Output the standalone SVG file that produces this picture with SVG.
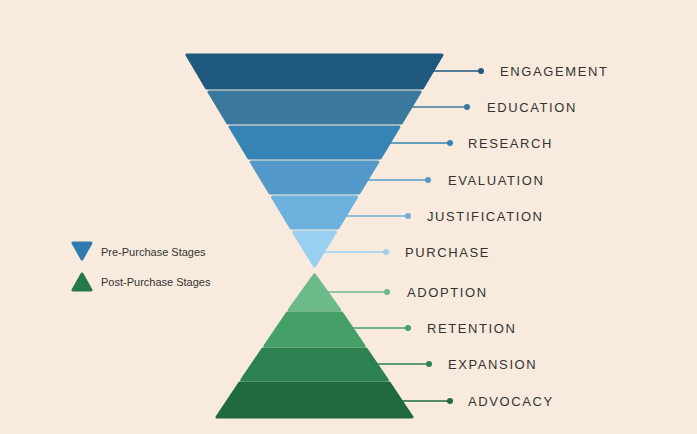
<svg xmlns="http://www.w3.org/2000/svg" width="697" height="434" viewBox="0 0 697 434">
<style>
.b{stroke-linejoin:round;stroke-width:3}
.t{font-family:"Liberation Sans",Arial,sans-serif;font-size:13px;letter-spacing:1.6px;fill:#333}
.l{font-family:"Liberation Sans",Arial,sans-serif;font-size:11px;fill:#333}
#connectors line{stroke-width:1.5}
</style>
<rect width="697" height="434" fill="#f8ebdd"/>
<g id="legend">
<polygon class="b" points="73,243 91,243 82,259" fill="#2f7bb0" stroke="#2f7bb0"/>
<text class="l" x="101" y="256">Pre-Purchase Stages</text>
<polygon class="b" points="82,274 91,290 73,290" fill="#23794a" stroke="#23794a"/>
<text class="l" x="101" y="286">Post-Purchase Stages</text>
</g>
<g id="engagement"><polygon class="b" points="187,55 442,55 422.5,88 206.5,88" fill="#1f5a7e" stroke="#1f5a7e"/><text class="t" x="500" y="76">ENGAGEMENT</text></g>
<g id="education"><polygon class="b" points="209,92 420,92 401.3,123 227.7,123" fill="#3a789d" stroke="#3a789d"/><text class="t" x="487" y="112">EDUCATION</text></g>
<g id="research"><polygon class="b" points="230.1,127 398.9,127 380.2,158 248.8,158" fill="#3683b6" stroke="#3683b6"/><text class="t" x="468" y="148">RESEARCH</text></g>
<g id="evaluation"><polygon class="b" points="251.2,162 377.8,162 359,193 270,193" fill="#5299c9" stroke="#5299c9"/><text class="t" x="448" y="185">EVALUATION</text></g>
<g id="justification"><polygon class="b" points="272.4,197 356.6,197 337.9,228 291.1,228" fill="#6db1de" stroke="#6db1de"/><text class="t" x="427" y="221">JUSTIFICATION</text></g>
<g id="purchase"><polygon class="b" points="293.5,232 335.5,232 314.5,266" fill="#99d0f2" stroke="#99d0f2"/><text class="t" x="405" y="257">PURCHASE</text></g>
<g id="adoption"><polygon class="b" points="314.5,275 339.7,310 289.3,310" fill="#6cb98a" stroke="#6cb98a"/><text class="t" x="407" y="297">ADOPTION</text></g>
<g id="retention"><polygon class="b" points="287.3,313 341.7,313 364.1,346 264.9,346" fill="#45a068" stroke="#45a068"/><text class="t" x="427" y="333">RETENTION</text></g>
<g id="expansion"><polygon class="b" points="262.8,349 366.2,349 387.3,380 241.7,380" fill="#2b8250" stroke="#2b8250"/><text class="t" x="448" y="369">EXPANSION</text></g>
<g id="advocacy"><polygon class="b" points="239.7,383 389.3,383 412,417 217,417" fill="#1f6a3e" stroke="#1f6a3e"/><text class="t" x="468" y="406">ADVOCACY</text></g>
<g id="connectors">
<line x1="432" y1="71" x2="481" y2="71" stroke="#1f5a7e"/><circle cx="481" cy="71" r="3" fill="#1f5a7e"/>
<line x1="410" y1="107" x2="467" y2="107" stroke="#3a789d"/><circle cx="467" cy="107" r="3" fill="#3a789d"/>
<line x1="389" y1="143" x2="450" y2="143" stroke="#3683b6"/><circle cx="450" cy="143" r="3" fill="#3683b6"/>
<line x1="366" y1="180" x2="428" y2="180" stroke="#5299c9"/><circle cx="428" cy="180" r="3" fill="#5299c9"/>
<line x1="345" y1="216" x2="408" y2="216" stroke="#6db1de"/><circle cx="408" cy="216" r="3" fill="#6db1de"/>
<line x1="323" y1="252" x2="386" y2="252" stroke="#99d0f2"/><circle cx="386" cy="252" r="3" fill="#99d0f2"/>
<line x1="327" y1="292" x2="387" y2="292" stroke="#6cb98a"/><circle cx="387" cy="292" r="3" fill="#6cb98a"/>
<line x1="351" y1="328" x2="408" y2="328" stroke="#45a068"/><circle cx="408" cy="328" r="3" fill="#45a068"/>
<line x1="376" y1="364" x2="429" y2="364" stroke="#2b8250"/><circle cx="429" cy="364" r="3" fill="#2b8250"/>
<line x1="401" y1="401" x2="450" y2="401" stroke="#1f6a3e"/><circle cx="450" cy="401" r="3" fill="#1f6a3e"/>
</g>
</svg>
